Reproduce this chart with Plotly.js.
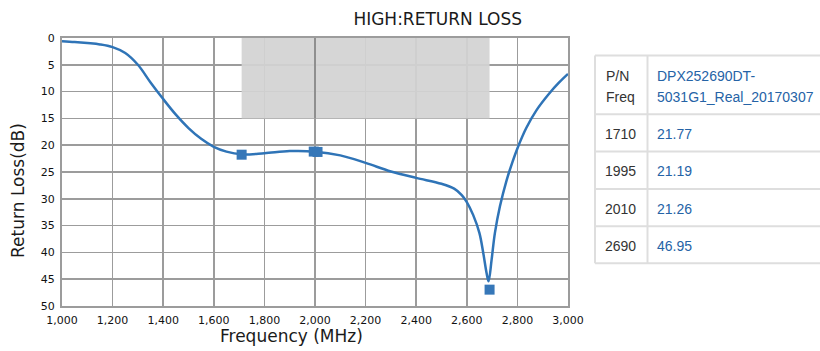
<!DOCTYPE html>
<html>
<head>
<meta charset="utf-8">
<script src="https://cdn.plot.ly/plotly-3.0.1.min.js"></script>
<style>
html,body{margin:0;padding:0;background:#fff;}
#chart{width:820px;height:351px;}
</style>
</head>
<body>
<div id="chart"></div>
<script>
// ---- data ----
const freq = [1000,1050,1100,1150,1200,1250,1300,1350,1400,1450,1500,1550,1600,1650,1710,1800,1900,2000,2100,2200,2300,2400,2500,2550,2580,2600,2625,2650,2665,2678,2686,2698,2711,2731,2757,2780,2800,2835,2875,2925,2965,3000];
const returnLoss = [0.6,0.75,0.95,1.2,1.7,2.8,5.0,8.3,11.4,14.3,16.8,18.8,20.3,21.2,21.7,21.5,21.1,21.2,21.9,23.3,24.9,26.1,27.2,28.1,29.3,30.6,33.0,36.4,40.1,43.8,45.4,41.4,36.4,31.4,26.6,23.2,20.6,16.8,13.5,10.4,8.3,6.7];
const markerFreq = [1710,1995,2010,2690];
const markerRL = [21.77,21.19,21.26,46.95];
const bandFreq = [1710,2690];
const bandRL = [0,15];
const xTicks = [1000,1200,1400,1600,1800,2000,2200,2400,2600,2800,3000];
const yTicks = [0,5,10,15,20,25,30,35,40,45,50];
const partNumber = "DPX252690DT-5031G1_Real_20170307";
const headerLabels = ["P/N","Freq"];
const chartTitle = "HIGH:RETURN LOSS";
const xTitle = "Frequency (MHz)";
const yTitle = "Return Loss(dB)";

// ---- layout helpers (pixel -> paper) ----
const FW = 820, FH = 351;
const M = {l:62, r:252, t:37.5, b:44.5};
const PW = FW - M.l - M.r, PH = FH - M.t - M.b;
const px = p => (p - M.l) / PW;
const py = p => (FH - M.b - p) / PH;

const blue = '#2f74b7';
const valBlue = '#2563a6';
const gridCol = '#9c9c9c';
const tableLine = '#dedede';

const shapes = [
  {type:'rect', xref:'x', yref:'y', x0:bandFreq[0], x1:bandFreq[1], y0:bandRL[0], y1:bandRL[1],
   fillcolor:'#d3d3d3', opacity:0.93, line:{width:0}, layer:'between'},
  {type:'line', xref:'x', yref:'y', x0:2000, x1:2000, y0:bandRL[0], y1:bandRL[1],
   line:{color:'#7a7a7a', width:1.5}, layer:'between'}
];

// table geometry
const tLeft = 595, tSep = 647.5, tRight = 824;
const rowY = [55,114,151.5,189,226.5,263.5];
rowY.forEach(y => shapes.push({type:'line', xref:'paper', yref:'paper',
  x0:px(tLeft), x1:px(tRight), y0:py(y), y1:py(y), line:{color:tableLine, width:2}}));
[tLeft, tSep].forEach(x => shapes.push({type:'line', xref:'paper', yref:'paper',
  x0:px(x), x1:px(x), y0:py(rowY[0]), y1:py(rowY[rowY.length-1]), line:{color:tableLine, width:2}}));

const tFont = {family:'Liberation Sans, Arial, sans-serif', size:14, color:'#333'};
const vFont = {family:'Liberation Sans, Arial, sans-serif', size:14, color:valBlue};
const ann = [];
const hyph = partNumber.indexOf('-') + 1;
const partLines = [partNumber.slice(0, hyph), partNumber.slice(hyph)];
const headerY = [76, 97];
headerLabels.forEach((t,i) => ann.push({text:t, xref:'paper', yref:'paper', x:px(604), y:py(headerY[i]),
  xanchor:'left', yanchor:'middle', showarrow:false, font:tFont}));
partLines.forEach((t,i) => ann.push({text:t, xref:'paper', yref:'paper', x:px(655), y:py(headerY[i]),
  xanchor:'left', yanchor:'middle', showarrow:false, font:vFont}));
markerFreq.forEach((f,i) => {
  const yc = (rowY[i+1] + rowY[i+2]) / 2 + 1;
  ann.push({text:String(f), xref:'paper', yref:'paper', x:px(603), y:py(yc),
    xanchor:'left', yanchor:'middle', showarrow:false, font:tFont});
  ann.push({text:markerRL[i].toFixed(2), xref:'paper', yref:'paper', x:px(655), y:py(yc),
    xanchor:'left', yanchor:'middle', showarrow:false, font:vFont});
});
// axis titles
ann.push({text:xTitle, xref:'paper', yref:'paper', x:px(291), y:py(337), xanchor:'center', yanchor:'middle',
  showarrow:false, font:{family:'DejaVu Sans, sans-serif', size:17, color:'#1a1a1a'}});
ann.push({text:yTitle, xref:'paper', yref:'paper', x:px(18), y:py(191), xanchor:'center', yanchor:'middle',
  textangle:-90, showarrow:false, font:{family:'DejaVu Sans, sans-serif', size:17, color:'#1a1a1a'}});

const traces = [
  {x:freq, y:returnLoss, type:'scatter', mode:'lines', line:{color:blue, width:2.5, shape:'spline', smoothing:1.0},
   hoverinfo:'skip', showlegend:false},
  {x:markerFreq, y:markerRL, type:'scatter', mode:'markers', marker:{symbol:'square', size:10, color:'#3677b8'},
   showlegend:false}
];

const tickFont = {family:'DejaVu Sans, sans-serif', size:11, color:'#111'};
const layout = {
  width:FW, height:FH, margin:M, paper_bgcolor:'#fff', plot_bgcolor:'#fff',
  showlegend:false,
  title:{text:chartTitle, x:437.7/FW, xanchor:'center', y:1-19/FH, yanchor:'middle',
         font:{family:'DejaVu Sans, sans-serif', size:17, color:'#1a1a1a'}},
  xaxis:{range:[1000,3000], autorange:false, tickvals:xTicks, ticktext:xTicks.map(v=>v.toLocaleString('en-US')),
    showgrid:true, gridcolor:gridCol, gridwidth:1.6, zeroline:false, showline:true, mirror:true,
    linecolor:gridCol, linewidth:2, ticks:'', tickfont:tickFont, ticklabelstandoff:3, fixedrange:true},
  yaxis:{range:[50,0], autorange:false, tickvals:yTicks, ticktext:yTicks.map(String),
    showgrid:true, gridcolor:gridCol, gridwidth:1.6, zeroline:false, showline:true, mirror:true,
    linecolor:gridCol, linewidth:2, ticks:'', tickfont:tickFont, ticklabelstandoff:3, fixedrange:true},
  shapes:shapes, annotations:ann
};
Plotly.newPlot('chart', traces, layout, {staticPlot:true, displayModeBar:false});
</script>
</body>
</html>
